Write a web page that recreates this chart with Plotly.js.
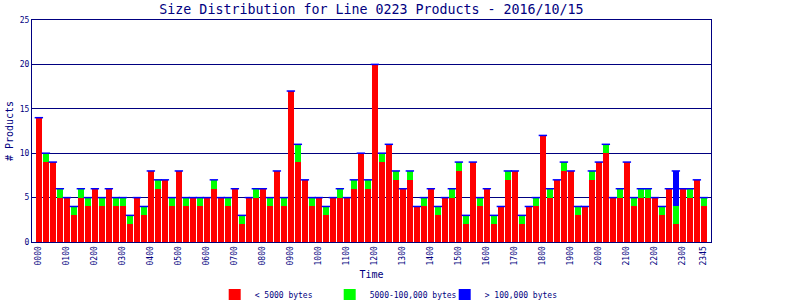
<!DOCTYPE html>
<html>
<head>
<meta charset="utf-8">
<script src="https://cdn.plot.ly/plotly-3.0.1.min.js"></script>
<style>html,body{margin:0;padding:0;background:#fff;}#chart{width:800px;height:300px;}</style>
</head>
<body>
<div id="chart"></div>
<script>
const times = ["0000","0015","0030","0045","0100","0115","0130","0145","0200","0215","0230","0245",
"0300","0315","0330","0345","0400","0415","0430","0445","0500","0515","0530","0545",
"0600","0615","0630","0645","0700","0715","0730","0745","0800","0815","0830","0845",
"0900","0915","0930","0945","1000","1015","1030","1045","1100","1115","1130","1145",
"1200","1215","1230","1245","1300","1315","1330","1345","1400","1415","1430","1445",
"1500","1515","1530","1545","1600","1615","1630","1645","1700","1715","1730","1745",
"1800","1815","1830","1845","1900","1915","1930","1945","2000","2015","2030","2045",
"2100","2115","2130","2145","2200","2215","2230","2245","2300","2315","2330","2345"];

const small = [14,9,9,5,5,3,5,4,6,4,6,4,4,2,5,3,8,6,7,4,8,4,5,4,5,
6,5,4,6,2,5,5,6,4,8,4,17,9,7,4,5,3,5,5,5,6,10,6,20,
9,11,7,6,7,4,4,6,3,5,5,8,2,9,4,6,2,4,7,8,2,4,4,12,
5,7,8,8,3,4,7,9,10,5,5,9,4,5,5,5,3,6,2,6,5,7,4];

const medium = [0,1,0,1,0,1,1,1,0,1,0,1,1,1,0,1,0,1,0,1,0,1,0,1,0,
1,0,1,0,1,0,1,0,1,0,1,0,2,0,1,0,1,0,1,0,1,0,1,0,
1,0,1,0,1,0,1,0,1,0,1,1,1,0,1,0,1,0,1,0,1,0,1,0,
1,0,1,0,1,0,1,0,1,0,1,0,1,1,1,0,1,0,2,0,1,0,1];

const large = [0,0,0,0,0,0,0,0,0,0,0,0,0,0,0,0,0,0,0,0,0,0,0,0,0,
0,0,0,0,0,0,0,0,0,0,0,0,0,0,0,0,0,0,0,0,0,0,0,0,
0,0,0,0,0,0,0,0,0,0,0,0,0,0,0,0,0,0,0,0,0,0,0,0,
0,0,0,0,0,0,0,0,0,0,0,0,0,0,0,0,0,0,4,0,0,0,0];

const tickLabels = ["0000","0100","0200","0300","0400","0500","0600","0700","0800","0900","1000","1100",
"1200","1300","1400","1500","1600","1700","1800","1900","2000","2100","2200","2300","2345"];

const seriesNames = ["< 5000 bytes","5000-100,000 bytes","> 100,000 bytes"];
const colors = ["#ff0000","#00ff00","#0000ff"];

const totals = small.map((v,i)=>v+medium[i]+large[i]);

const navy = "#000080";
const mono = "DejaVu Sans Mono, monospace";

const data = [
  {type:"bar", x:times, y:small, name:seriesNames[0], marker:{color:colors[0]}},
  {type:"bar", x:times, y:medium, name:seriesNames[1], marker:{color:colors[1]}},
  {type:"bar", x:times, y:large, name:seriesNames[2], marker:{color:colors[2]}},
  {type:"scatter", mode:"markers", x:times, y:totals, showlegend:false, hoverinfo:"skip",
   marker:{symbol:"line-ew", size:6, color:colors[2], line:{color:colors[2], width:1.5}}}
];

const layout = {
  width:800, height:300,
  paper_bgcolor:"#ffffff", plot_bgcolor:"#ffffff",
  margin:{l:32, r:89, t:20, b:58},
  barmode:"stack", bargap:0.17,
  font:{family:mono, color:navy, size:8},
  title:{text:"Size Distribution for Line 0223 Products - 2016/10/15",
    font:{family:mono, size:13.3, color:navy}, x:0.5, xref:"paper", xanchor:"center",
    y:0.97, yref:"container", yanchor:"middle"},
  xaxis:{type:"category", range:[-0.98, 96.02], tickmode:"array", tickvals:tickLabels, ticktext:tickLabels,
    tickangle:-90, ticks:"", showgrid:false, showline:true, mirror:true, linecolor:navy, linewidth:1,
    tickfont:{family:mono, size:8, color:navy}, zeroline:false,
    title:{text:"Time", font:{family:mono, size:10, color:navy}, standoff:9}},
  yaxis:{range:[0,25], tickmode:"array", tickvals:[0,5,10,15,20,25], ticks:"", showgrid:true,
    gridcolor:navy, gridwidth:1, showline:true, mirror:true, linecolor:navy, linewidth:1, zeroline:false,
    tickfont:{family:mono, size:8, color:navy},
    title:{text:"# Products", font:{family:mono, size:10, color:navy}, standoff:4}},
  showlegend:true,
  legend:{orientation:"h", x:0.484, xref:"container", xanchor:"center", y:0.017, yref:"container", yanchor:"middle",
    entrywidth:70, entrywidthmode:"pixels",
    font:{family:mono, size:8, color:navy}, traceorder:"normal", bgcolor:"rgba(0,0,0,0)"}
};

Plotly.newPlot("chart", data, layout, {displayModeBar:false, staticPlot:true});
</script>
</body>
</html>
